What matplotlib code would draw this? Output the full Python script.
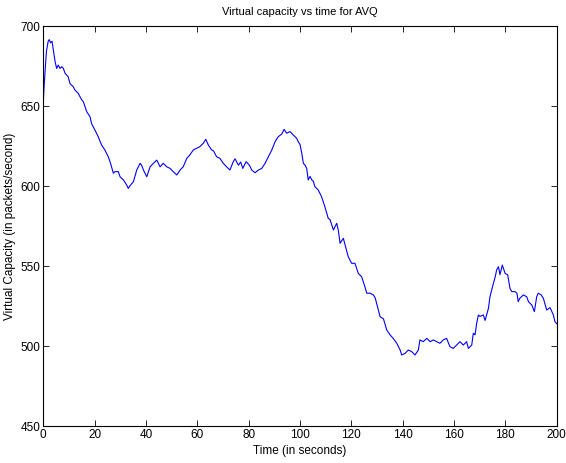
import matplotlib
matplotlib.use("Agg")
import matplotlib.pyplot as plt

time_s = [0.0, 0.3, 0.7, 1.2, 1.9, 2.3, 2.8, 3.4, 3.9, 4.6, 5.2, 5.8, 6.5, 7.2, 7.8, 8.5, 9.7,
          10.4, 11.7, 12.3, 13.6, 14.3, 15.0, 15.6, 16.9, 18.2, 18.8, 20.1, 21.4, 22.7, 24.0,
          25.3, 26.0, 27.3, 27.9, 29.2, 29.9, 31.2, 32.5, 33.1, 33.7, 35.1, 36.4, 37.7, 38.3,
          39.0, 40.3, 41.6, 42.9, 44.2, 45.5, 46.7, 48.1, 49.4, 50.6, 52.0, 53.3, 54.5, 55.9,
          57.1, 58.4, 59.8, 61.0, 62.3, 63.3, 64.3, 65.6, 66.3, 67.5, 68.8, 70.1, 71.4, 72.7,
          74.0, 74.7, 76.0, 76.9, 77.7, 79.0, 80.3, 81.2, 82.5, 83.8, 85.1, 86.4, 87.7, 89.0,
          90.3, 91.5, 92.9, 93.8, 94.8, 96.1, 97.4, 98.7, 99.3, 100.0, 100.7, 101.3, 102.0,
          102.6, 103.2, 103.9, 104.6, 105.2, 105.8, 107.1, 108.4, 109.7, 111.0, 111.7, 113.0,
          114.3, 114.9, 115.6, 116.9, 117.5, 118.8, 120.1, 121.4, 122.7, 124.0, 125.3, 126.0,
          127.3, 128.6, 129.3, 131.2, 132.5, 133.8, 135.1, 136.3, 137.7, 139.0, 139.6, 140.9,
          142.2, 143.5, 144.8, 146.1, 146.7, 148.0, 149.4, 150.7, 151.9, 153.3, 154.5, 155.8,
          157.1, 158.4, 159.7, 161.0, 162.3, 163.6, 164.9, 165.6, 166.9, 167.5, 168.2, 168.8,
          169.5, 170.1, 171.4, 172.1, 173.4, 174.0, 175.3, 175.9, 176.6, 177.3, 177.9, 178.8,
          179.9, 180.9, 181.8, 182.5, 183.8, 184.5, 185.0, 185.6, 187.0, 188.3, 189.0, 190.3,
          191.3, 192.2, 192.8, 193.9, 194.8, 195.5, 196.1, 197.4, 198.1, 198.7, 199.3, 200.0]

capacity = [651.7, 662.0, 672.0, 684.0, 690.5, 691.5, 689.5, 690.5, 685.0, 677.7, 673.5, 675.6,
            673.5, 674.6, 673.5, 670.4, 668.3, 664.0, 662.0, 660.0, 658.0, 655.8, 653.8, 652.7,
            646.5, 643.3, 639.0, 635.0, 630.8, 625.6, 622.5, 618.3, 615.2, 608.0, 609.0, 609.0,
            605.8, 603.8, 600.6, 598.5, 600.0, 602.7, 610.0, 614.2, 613.0, 610.0, 605.8, 612.0,
            614.2, 616.2, 612.0, 614.2, 612.0, 611.0, 609.0, 606.9, 610.0, 612.0, 617.3, 619.4,
            622.5, 623.6, 624.6, 626.7, 629.2, 625.6, 622.5, 622.0, 618.3, 617.3, 614.2, 612.0,
            610.0, 615.2, 617.0, 613.0, 615.0, 611.0, 615.2, 613.0, 610.0, 608.3, 610.0, 611.0,
            614.2, 618.3, 622.5, 627.7, 630.8, 632.5, 635.4, 633.0, 634.0, 631.9, 629.8, 627.7,
            626.0, 620.4, 614.2, 613.0, 611.0, 603.8, 606.0, 603.8, 603.0, 599.6, 597.5, 593.3,
            587.0, 579.8, 579.0, 572.5, 576.7, 572.5, 564.2, 567.3, 563.5, 555.8, 551.7, 551.7,
            545.4, 543.3, 537.0, 533.0, 533.0, 531.9, 530.0, 518.3, 517.0, 510.0, 506.9, 504.8,
            501.7, 497.5, 494.4, 495.4, 497.5, 496.5, 494.4, 497.5, 503.8, 502.7, 504.8, 502.7,
            503.8, 502.7, 501.7, 503.8, 504.8, 499.6, 498.5, 500.6, 502.7, 500.6, 502.7, 498.5,
            500.6, 507.9, 507.0, 514.2, 519.4, 518.5, 519.4, 516.0, 523.5, 530.8, 539.0, 542.3,
            547.5, 549.6, 544.6, 550.6, 545.4, 544.5, 536.0, 534.0, 534.0, 533.0, 527.7, 529.8,
            531.9, 530.8, 527.7, 525.6, 521.5, 530.8, 533.0, 532.0, 529.8, 526.0, 522.5, 524.0,
            521.5, 519.4, 515.2, 514.0]

x_ticks = [0, 20, 40, 60, 80, 100, 120, 140, 160, 180, 200]
y_ticks = [450, 500, 550, 600, 650, 700]

plt.rcParams['font.family'] = ['Liberation Sans', 'DejaVu Sans']
plt.rcParams['font.size'] = 8

fig = plt.figure(figsize=(5.66, 4.63), dpi=100)
ax = fig.add_axes([0.0765, 0.0799, 0.9071, 0.8639])
ax.plot(time_s, capacity, color=(0, 0, 1), linewidth=0.8)
ax.set_xlim(0, 200)
ax.set_ylim(450, 700)
ax.set_xticks(x_ticks)
ax.set_yticks(y_ticks)
ax.tick_params(direction='in', top=True, right=True, length=4, width=0.6, labelsize=8.5, pad=2)
for s in ax.spines.values():
    s.set_linewidth(0.8)
ax.set_title('Virtual capacity vs time for AVQ', fontsize=8, pad=8)
ax.set_xlabel('Time (in seconds)', fontsize=8.5, labelpad=3)
ax.set_ylabel('Virtual Capacity (in packets/second)', fontsize=8.5, labelpad=3)
fig.savefig('out.png', dpi=100)
